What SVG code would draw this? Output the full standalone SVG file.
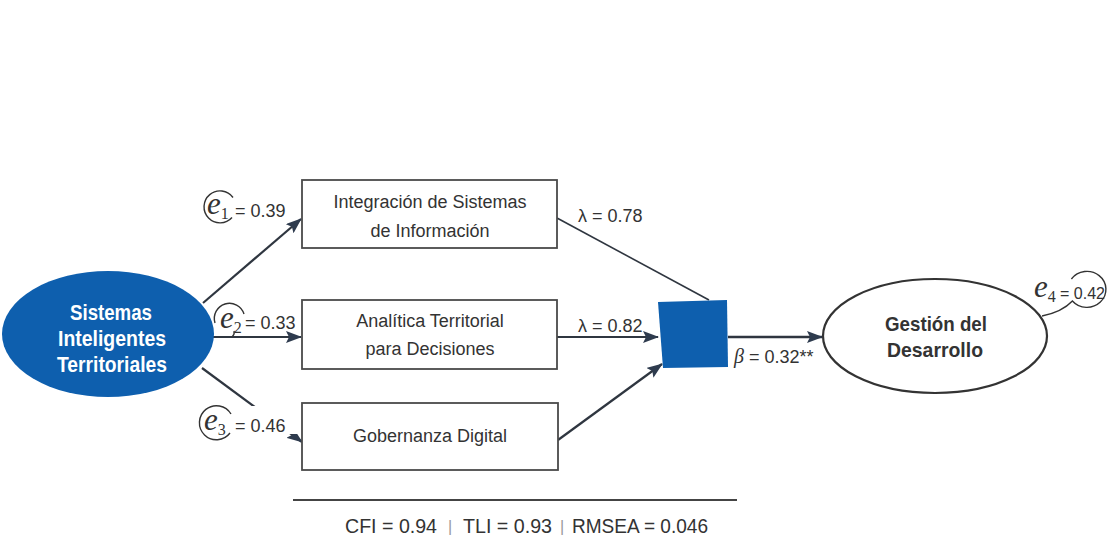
<svg xmlns="http://www.w3.org/2000/svg" width="1107" height="540" viewBox="0 0 1107 540">
<defs>
<style>
.box{fill:#fff;stroke:#4a4a4a;stroke-width:1.8}
.bt{font-family:"Liberation Sans",Arial,sans-serif;font-size:18px;fill:#333;text-anchor:middle}
.wt{font-family:"Liberation Sans",Arial,sans-serif;font-size:22px;font-weight:bold;fill:#fff;text-anchor:middle}
.gt{font-family:"Liberation Sans",Arial,sans-serif;font-size:21px;font-weight:bold;fill:#333;text-anchor:middle}
.lab{font-family:"Liberation Sans",Arial,sans-serif;font-size:18px;fill:#333}
.ev{font-family:"Liberation Serif","Times New Roman",serif;font-size:31px;font-style:italic;fill:#333}
.sub{font-family:"Liberation Serif","Times New Roman",serif;font-size:16px;font-style:normal}
.res{fill:none;stroke:#333;stroke-width:1.4}
.con{fill:none;stroke:#2f3640;stroke-width:2.2}
.foot{font-family:"Liberation Sans",Arial,sans-serif;font-size:20px;fill:#333}
.sep{font-family:"Liberation Sans",Arial,sans-serif;font-size:16px;fill:#999}
</style>
<marker id="arr" viewBox="0 0 16 12" refX="15" refY="6" markerWidth="16" markerHeight="12" orient="auto" markerUnits="userSpaceOnUse">
<path d="M0,0 L16,6 L0,12 L3,6 z" fill="#2e3b4e"/>
</marker>
</defs>
<rect width="1107" height="540" fill="#fff"/>

<g id="connectors">
<path class="con" d="M203,303 L301,219" marker-end="url(#arr)"/>
<path class="con" d="M213,337 L301,337" marker-end="url(#arr)"/>
<path class="con" d="M202,368 L302,442" marker-end="url(#arr)"/>
<path class="con" d="M557,218 L709,300" style="stroke-width:1.6"/>
<path class="con" d="M557,337 L658,337" marker-end="url(#arr)"/>
<path class="con" d="M558,440 L662,364" marker-end="url(#arr)"/>
<path class="con" d="M728,337 L822,337" style="stroke-width:2.6" marker-end="url(#arr)"/>
</g>

<g id="node-sit">
<ellipse cx="108" cy="334" rx="106" ry="63" fill="#0e5fae"/>
<text class="wt" x="111" y="320" textLength="82" lengthAdjust="spacingAndGlyphs">Sistemas</text>
<text class="wt" x="112" y="346" textLength="108" lengthAdjust="spacingAndGlyphs">Inteligentes</text>
<text class="wt" x="112" y="372" textLength="110" lengthAdjust="spacingAndGlyphs">Territoriales</text>
</g>

<g id="node-integracion">
<rect class="box" x="302" y="180" width="255" height="68"/>
<text class="bt" x="430" y="208">Integración de Sistemas</text>
<text class="bt" x="430" y="237">de Información</text>
</g>

<g id="node-analitica">
<rect class="box" x="302" y="300" width="255" height="69"/>
<text class="bt" x="430" y="327">Analítica Territorial</text>
<text class="bt" x="430" y="355">para Decisiones</text>
</g>

<g id="node-gobernanza">
<rect class="box" x="302" y="403" width="256" height="67"/>
<text class="bt" x="430" y="442">Gobernanza Digital</text>
</g>

<g id="node-mediator">
<polygon points="658,302 727,300 728,367 663,368" fill="#0e5fae"/>
</g>

<g id="node-gestion">
<ellipse cx="935" cy="336" rx="112" ry="57" fill="#fff" stroke="#333" stroke-width="2.2"/>
<text class="gt" x="936" y="331" textLength="102" lengthAdjust="spacingAndGlyphs">Gestión del</text>
<text class="gt" x="935" y="357" textLength="96" lengthAdjust="spacingAndGlyphs">Desarrollo</text>
</g>

<g id="residual-e1">
<path class="res" d="M233,197.5 A16,16 0 1 0 232,217.5"/>
<text class="ev" x="207" y="214">e<tspan class="sub" dx="0" dy="5">1</tspan></text>
<text class="lab" x="235" y="217">= 0.39</text>
</g>

<g id="residual-e2">
<path class="res" d="M215,323 A15,15 0 0 1 244,314"/>
<path class="res" d="M234,331 Q235,334 232,337"/>
<text class="ev" x="220" y="328">e<tspan class="sub" dx="0" dy="5">2</tspan></text>
<text class="lab" x="245" y="329">= 0.33</text>
</g>

<g id="residual-e3">
<rect x="250" y="406" width="48" height="28" fill="#fff"/>
<path class="res" d="M231,414 A17,17 0 1 0 230,433"/>
<text class="ev" x="204" y="430">e<tspan class="sub" dx="0" dy="5">3</tspan></text>
<text class="lab" x="235" y="432">= 0.46</text>
</g>

<g id="residual-e4">
<path class="res" d="M1071.4,279 A19,18 0 1 1 1072.4,301 Q1062,312 1042,316"/>
<text class="ev" x="1034" y="297">e<tspan class="sub" dx="0" dy="5">4</tspan></text>
<text class="lab" x="1060" y="299" style="font-size:16px">= 0.42</text>
</g>

<g id="labels">
<text class="lab" x="578" y="222">λ = 0.78</text>
<text class="lab" x="578" y="332">λ = 0.82</text>
<text class="lab" x="734" y="363"><tspan font-family="Liberation Serif,serif" font-style="italic" font-size="20">β</tspan> = 0.32**</text>
</g>

<g id="fit">
<line x1="293" y1="500" x2="737" y2="500" stroke="#444" stroke-width="2"/>
<text class="foot" x="345" y="533" textLength="92" lengthAdjust="spacingAndGlyphs">CFI = 0.94</text>
<text class="sep" x="448" y="532">|</text>
<text class="foot" x="463" y="533" textLength="89" lengthAdjust="spacingAndGlyphs">TLI = 0.93</text>
<text class="sep" x="560" y="532">|</text>
<text class="foot" x="572" y="533" textLength="136" lengthAdjust="spacingAndGlyphs">RMSEA = 0.046</text>
</g>
</svg>
